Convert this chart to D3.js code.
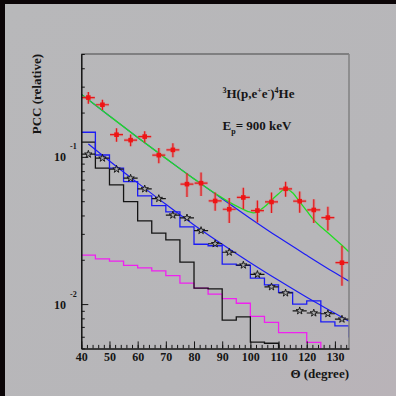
<!DOCTYPE html>
<html>
<head>
<meta charset="utf-8">
<script src="https://cdn.jsdelivr.net/npm/d3@7"></script>
<style>
body { margin: 0; background: #0b0507; }
text { font-family: "Liberation Serif", "DejaVu Serif", serif; font-weight: bold; fill: #151515; }
</style>
</head>
<body>
<script>
// histogram bin edges (degree)
const binEdges = [40, 45, 50, 55, 60, 65, 70, 75, 80, 85, 90, 95, 100, 105, 110, 115, 120, 125, 130, 135, 140];
const blueHist = [0.147, 0.103, 0.0838, 0.068, 0.0543, 0.0467, 0.0423, 0.0335, 0.0255, 0.0249, 0.0187, 0.0183, 0.0150, 0.0135, 0.0120, 0.0100, 0.0105, 0.00758, 0.00712, 0.0060];
const blackHist = [0.1258, 0.0838, 0.0645, 0.0497, 0.0368, 0.0303, 0.0273, 0.0193, 0.01284, 0.0127, 0.00778, 0.0082, 0.00552, 0.00542, 0.003, 0.003, 0.003, 0.003, 0.003, 0.003];
const magentaHist = [0.0215, 0.0203, 0.0196, 0.0183, 0.0176, 0.0168, 0.0156, 0.0139, 0.01284, 0.0117, 0.0109, 0.01013, 0.00826, 0.00752, 0.00639, 0.00639, 0.0055, 0.003, 0.003, 0.003];

// measured points
const pointX = [42.5, 47.5, 52.5, 57.5, 62.5, 67.5, 72.5, 77.5, 82.5, 87.5, 92.5, 97.5, 102.5, 107.5, 112.5, 117.5, 122.5, 127.5, 132.5];
const redY = [0.253, 0.226, 0.1415, 0.130, 0.1374, 0.1027, 0.1116, 0.0653, 0.0663, 0.0502, 0.0441, 0.0530, 0.0432, 0.0494, 0.0607, 0.0500, 0.0436, 0.0387, 0.0191];
const redErr = [0.023, 0.018, 0.015, 0.012, 0.012, 0.012, 0.012, 0.012, 0.012, 0.0072, 0.0085, 0.0087, 0.0073, 0.0079, 0.0071, 0.0082, 0.008, 0.0071, 0.0058];
const starY = [0.1043, 0.0980, 0.0825, 0.0717, 0.0606, 0.0521, 0.0402, 0.0385, 0.0316, 0.0257, 0.0225, 0.0184, 0.0159, 0.0131, 0.0119, 0.0090, 0.0087, 0.0086, 0.0079];

// fit curves
const fitX = [40, 50, 60, 70, 80, 90, 100, 110, 120, 130, 135];
const fitUpper = [0.2665, 0.1898, 0.1356, 0.0977, 0.0709, 0.0519, 0.0382, 0.0284, 0.02145, 0.0163, 0.01428];
const lowX = [42.5, 50, 60, 70, 80, 90, 100, 110, 120, 130, 135];
const fitLower = [0.1226, 0.0939, 0.0666, 0.0476, 0.0345, 0.0255, 0.0191, 0.0145, 0.01112, 0.00866, 0.00764];
const greenX = [40, 50, 60, 70, 80, 88, 92, 96, 99, 101, 102.5, 105, 108, 110, 112, 113, 115, 117.5, 120, 122.5, 125, 127.5, 130, 132.5, 135];
const greenY = [0.2665, 0.1898, 0.1356, 0.0977, 0.0709, 0.0556, 0.0499, 0.0454, 0.0427, 0.0417, 0.0423, 0.0458, 0.0519, 0.0561, 0.0602, 0.0602, 0.0570, 0.0495, 0.0430, 0.0373, 0.0335, 0.0305, 0.0277, 0.0251, 0.0226];

// axis ticks
const xTicks = [40, 50, 60, 70, 80, 90, 100, 110, 120, 130];
const yMajor = [0.01, 0.1];
const yMinor = [0.005, 0.006, 0.007, 0.008, 0.009, 0.02, 0.03, 0.04, 0.05, 0.06, 0.07, 0.08, 0.09, 0.2, 0.3, 0.4, 0.5];
const yLabels = [{ v: 0.1, exp: '-1' }, { v: 0.01, exp: '-2' }];

const W = 396, H = 396;
const frame = { left: 81.3, right: 349, top: 54, bottom: 348.4 };

const x = d3.scaleLinear().domain([40, 135]).range([frame.left, frame.right]);
const y = d3.scaleLog().domain([0.005, 0.5]).range([frame.bottom, frame.top]);

const svg = d3.select('body').append('svg')
    .attr('width', W).attr('height', H);

// slide background
const defs = svg.append('defs');
const grad = defs.append('linearGradient').attr('id', 'bg')
    .attr('x1', 0).attr('y1', 0).attr('x2', 1).attr('y2', 1);
grad.append('stop').attr('offset', '0%').attr('stop-color', '#b8b8ba');
grad.append('stop').attr('offset', '70%').attr('stop-color', '#b7b6b9');
grad.append('stop').attr('offset', '100%').attr('stop-color', '#b9b3b8');
defs.append('clipPath').attr('id', 'clip').append('rect')
    .attr('x', frame.left).attr('y', frame.top)
    .attr('width', frame.right - frame.left).attr('height', frame.bottom - frame.top);

svg.append('rect').attr('width', W).attr('height', H).attr('fill', '#0b0507');
svg.append('rect').attr('x', 5).attr('y', 4).attr('width', W - 5).attr('height', H - 4)
    .attr('fill', 'url(#bg)');

const plot = svg.append('g').attr('clip-path', 'url(#clip)');

// histograms
const stepLine = d3.line()
    .x(d => x(d[0]))
    .y(d => y(d[1]))
    .curve(d3.curveStepAfter);
function histPoints (vals) {
    const pts = vals.map((v, i) => [binEdges[i], v]);
    pts.push([binEdges[vals.length], vals[vals.length - 1]]);
    return pts;
}
[[magentaHist, '#f020f0'], [blackHist, '#141414'], [blueHist, '#1c1cf5']].forEach(([vals, col]) => {
    plot.append('path')
        .attr('d', stepLine(histPoints(vals)))
        .attr('fill', 'none')
        .attr('stroke', col)
        .attr('stroke-width', 1.3);
});

// fit curves
const curve = d3.line()
    .x(d => x(d[0]))
    .y(d => y(d[1]))
    .curve(d3.curveMonotoneX);
plot.append('path')
    .attr('d', curve(fitX.map((t, i) => [t, fitUpper[i]])))
    .attr('fill', 'none').attr('stroke', '#1c1cf5').attr('stroke-width', 1.2);
plot.append('path')
    .attr('d', curve(lowX.map((t, i) => [t, fitLower[i]])))
    .attr('fill', 'none').attr('stroke', '#1c1cf5').attr('stroke-width', 1.2);
plot.append('path')
    .attr('d', curve(greenX.map((t, i) => [t, greenY[i]])))
    .attr('fill', 'none').attr('stroke', '#22dd22').attr('stroke-width', 1.3);

// black stars with horizontal error bars
const stars = pointX.map((t, i) => ({ t: t, v: starY[i] }));
plot.selectAll('.sbar')
    .data(stars)
    .enter().append('line')
    .attr('class', 'sbar')
    .attr('x1', d => x(d.t - 2.5)).attr('x2', d => x(d.t + 2.5))
    .attr('y1', d => y(d.v)).attr('y2', d => y(d.v))
    .attr('stroke', '#151515').attr('stroke-width', 1.2);
plot.selectAll('.star')
    .data(stars)
    .enter().append('path')
    .attr('class', 'star')
    .attr('transform', d => 'translate(' + x(d.t) + ',' + y(d.v) + ')')
    .attr('d', d3.symbol(d3.symbolStar, 17))
    .attr('fill', '#a8a8aa')
    .attr('stroke', '#111')
    .attr('stroke-width', 0.9);

// red points with error crosses
const reds = pointX.map((t, i) => ({ t: t, v: redY[i], e: redErr[i] }));
const redG = plot.selectAll('.red')
    .data(reds)
    .enter().append('g')
    .attr('class', 'red');
[[3.2, 'rgba(240,90,90,0.35)'], [1.2, '#e3191c']].forEach(([w, col]) => {
    redG.append('line')
        .attr('x1', d => x(d.t - 2.3)).attr('x2', d => x(d.t + 2.3))
        .attr('y1', d => y(d.v)).attr('y2', d => y(d.v))
        .attr('stroke', col).attr('stroke-width', w);
    redG.append('line')
        .attr('x1', d => x(d.t)).attr('x2', d => x(d.t))
        .attr('y1', d => y(d.v + d.e)).attr('y2', d => y(d.v - d.e))
        .attr('stroke', col).attr('stroke-width', w);
});
redG.append('rect')
    .attr('x', d => x(d.t) - 2.3).attr('y', d => y(d.v) - 2.3)
    .attr('width', 4.6).attr('height', 4.6)
    .attr('fill', '#f01414');

// frame
svg.append('line')
    .attr('x1', frame.left).attr('x2', frame.right)
    .attr('y1', frame.top).attr('y2', frame.top)
    .attr('stroke', '#6c6c6e').attr('stroke-width', 1.5);
svg.append('line')
    .attr('x1', frame.right).attr('x2', frame.right)
    .attr('y1', frame.top).attr('y2', frame.bottom)
    .attr('stroke', '#808082').attr('stroke-width', 1.5);

// x axis
svg.append('g')
    .attr('transform', 'translate(0,' + frame.bottom + ')')
    .call(d3.axisBottom(x).tickValues(d3.range(40, 135, 2)).tickSizeInner(-3.5).tickSizeOuter(0).tickFormat(''))
    .call(g => g.select('.domain').remove())
    .selectAll('line').attr('stroke', '#151515');
const xAxis = svg.append('g')
    .attr('transform', 'translate(0,' + frame.bottom + ')')
    .call(d3.axisBottom(x).tickValues(xTicks).tickSizeInner(-7).tickSizeOuter(0).tickPadding(4.5));
xAxis.select('.domain').attr('stroke', '#111').attr('stroke-width', 1.5);
xAxis.selectAll('line').attr('stroke', '#151515');
xAxis.selectAll('text')
    .attr('font-family', '"Liberation Serif", serif')
    .attr('font-size', 12)
    .attr('font-weight', 'bold')
    .attr('fill', '#151515');

// y axis
svg.append('g')
    .attr('transform', 'translate(' + frame.left + ',0)')
    .call(d3.axisLeft(y).tickValues(yMinor).tickSizeInner(-3.5).tickSizeOuter(0).tickFormat(''))
    .call(g => g.select('.domain').remove())
    .selectAll('line').attr('stroke', '#151515');
const yAxis = svg.append('g')
    .attr('transform', 'translate(' + frame.left + ',0)')
    .call(d3.axisLeft(y).tickValues(yMajor).tickSizeInner(-7).tickSizeOuter(0).tickFormat(''));
yAxis.select('.domain').attr('stroke', '#111').attr('stroke-width', 1.5);
yAxis.selectAll('line').attr('stroke', '#151515');

yLabels.forEach(l => {
    svg.append('text')
        .attr('x', 66).attr('y', y(l.v) + 4.5)
        .attr('text-anchor', 'end')
        .attr('font-size', 12)
        .text('10');
    svg.append('text')
        .attr('x', 70).attr('y', y(l.v) - 7.5)
        .attr('font-size', 8)
        .text(l.exp);
});

// axis titles
svg.append('text')
    .attr('x', frame.right).attr('y', 377.5)
    .attr('text-anchor', 'end')
    .attr('font-size', 13)
    .text('Θ (degree)');
svg.append('text')
    .attr('transform', 'translate(41,' + frame.top + ') rotate(-90)')
    .attr('text-anchor', 'end')
    .attr('font-size', 13)
    .text('PCC (relative)');

// reaction label
const reac = svg.append('text')
    .attr('x', 222.5).attr('y', 98)
    .attr('font-size', 13);
reac.append('tspan').attr('font-size', 8).attr('dy', -5).text('3');
reac.append('tspan').attr('dy', 5).text('H(p,e');
reac.append('tspan').attr('font-size', 8).attr('dy', -5).text('+');
reac.append('tspan').attr('dy', 5).text('e');
reac.append('tspan').attr('font-size', 8).attr('dy', -5).text('-');
reac.append('tspan').attr('dy', 5).text(')');
reac.append('tspan').attr('font-size', 8).attr('dy', -5).text('4');
reac.append('tspan').attr('dy', 5).text('He');

const ep = svg.append('text')
    .attr('x', 222.5).attr('y', 130)
    .attr('font-size', 13);
ep.append('tspan').text('E');
ep.append('tspan').attr('font-size', 8).attr('dy', 3.5).text('p');
ep.append('tspan').attr('dy', -3.5).text('= 900 keV');
</script>
</body>
</html>
